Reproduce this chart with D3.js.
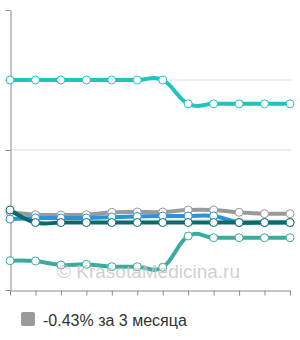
<!DOCTYPE html>
<html lang="ru">
<head>
  <meta charset="UTF-8">
  <title>Chart</title>
  <script src="https://d3js.org/d3.v7.min.js"></script>
  <style>
    body { margin: 0; background: #fff; }
    svg { display: block; font-family: "Liberation Sans", Arial, sans-serif; }
  </style>
</head>
<body>
  <div id="canvas"></div>
  <script>
    // twelve points along x, no visible labels
    const months = ['1', '2', '3', '4', '5', '6', '7', '8', '9', '10', '11', '12'];
    const yTicks = [0, 100, 200, 300, 400];

    const grayValues = [111.4, 107.6, 107.1, 107.6, 111, 111.4, 111.4, 114.3, 114.3, 111, 109, 109];
    const blueValues = [101.4, 102.9, 102.9, 102.9, 104.3, 105, 105.7, 105.7, 105.7, 96.4, 96.4, 96.4];
    const darkValues = [114.3, 96.4, 96.4, 96.4, 96.4, 96.4, 96.4, 96.4, 96.4, 96.4, 96.4, 96.4];
    const lowValues = [41.9, 41.4, 35.7, 36.7, 33.3, 33.3, 32.4, 77.1, 74.7, 74.7, 74.7, 74.7];
    const topValues = [300, 300, 300, 300, 300, 300, 300, 266, 266, 266, 266, 266];

    const seriesList = [
      { values: grayValues, color: '#9a9a9a' },
      { values: blueValues, color: '#2b93d8' },
      { values: darkValues, color: '#0a6a6a' },
      { values: lowValues, color: '#3aab9c' },
      { values: topValues, color: '#1ec4bd' }
    ];

    const width = 300;
    const height = 340;

    const scaleX = d3.scalePoint().domain(months).range([10, 290]);
    const scaleY = d3.scaleLinear().domain([0, 400]).range([290, 10]);

    const svg = d3.select('#canvas')
      .append('svg')
      .attr('width', width)
      .attr('height', height);

    // grid
    svg.append('g')
      .selectAll('line')
      .data(yTicks.slice(1, -1))
      .enter()
      .append('line')
      .attr('x1', 10)
      .attr('x2', 291)
      .attr('y1', d => scaleY(d))
      .attr('y2', d => scaleY(d))
      .attr('stroke', '#dcdcdc')
      .attr('stroke-width', 1);

    const yAxis = d3.axisLeft(scaleY).tickValues(yTicks).tickSize(5).tickSizeOuter(0).tickFormat('');
    svg.append('g')
      .attr('transform', 'translate(10.5,0)')
      .call(yAxis)
      .call(g => g.selectAll('path, line').attr('stroke', '#8a8a8a'));

    const xAxis = d3.axisBottom(scaleX).tickSize(5).tickSizeOuter(0).tickFormat('');
    svg.append('g')
      .attr('transform', 'translate(0,290.5)')
      .call(xAxis)
      .call(g => g.selectAll('path, line').attr('stroke', '#8a8a8a'));

    const line = d3.line()
      .x((d, i) => scaleX(months[i]))
      .y(d => scaleY(d))
      .curve(d3.curveCardinal.tension(-0.2));

    seriesList.forEach(s => {
      svg.append('path')
        .attr('d', line(s.values))
        .attr('fill', 'none')
        .attr('stroke', s.color)
        .attr('stroke-width', 4)
        .attr('stroke-linejoin', 'round');
      svg.append('g')
        .selectAll('circle')
        .data(s.values)
        .enter()
        .append('circle')
        .attr('cx', (d, i) => scaleX(months[i]))
        .attr('cy', d => scaleY(d))
        .attr('r', 4)
        .attr('fill', '#fff')
        .attr('stroke', s.color)
        .attr('stroke-width', 1);
    });

    // watermark
    svg.append('text')
      .attr('x', 57)
      .attr('y', 278)
      .attr('fill', '#c4c4c4')
      .attr('fill-opacity', 0.8)
      .style('font-size', '19px')
      .text('© KrasotaMedicina.ru');

    // legend
    const legend = svg.append('g').attr('transform', 'translate(21,312)');
    legend.append('rect')
      .attr('width', 14)
      .attr('height', 14)
      .attr('rx', 2)
      .attr('fill', '#9a9a9a');
    legend.append('text')
      .attr('x', 22)
      .attr('y', 14)
      .attr('fill', '#333')
      .style('font-size', '16px')
      .text('-0.43% за 3 месяца');
  </script>
</body>
</html>
